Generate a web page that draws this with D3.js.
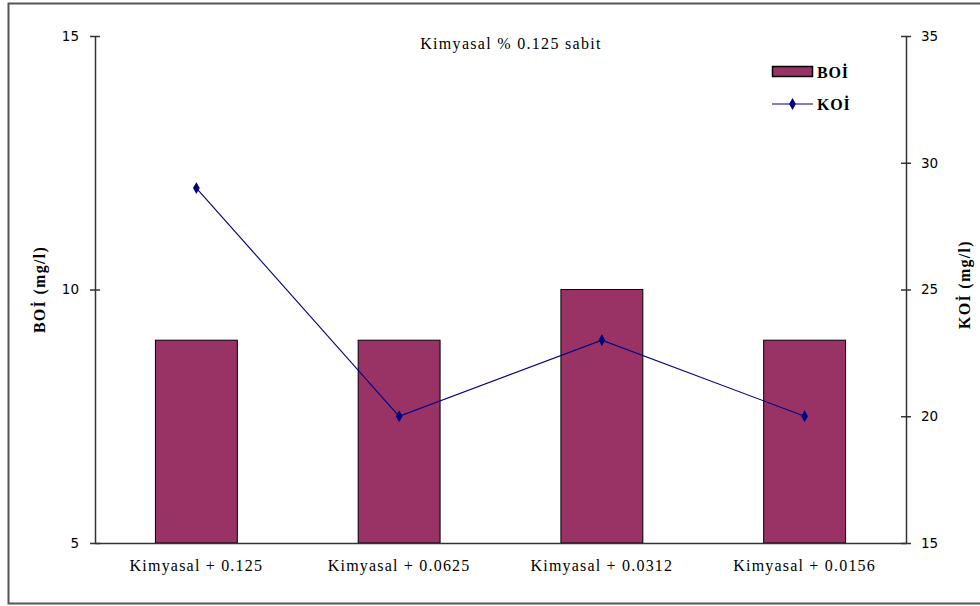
<!DOCTYPE html>
<html>
<head>
<meta charset="utf-8">
<script src="https://cdn.jsdelivr.net/npm/d3@7"></script>
<style>
  html, body { margin: 0; padding: 0; background: #fff; }
  svg { display: block; }
</style>
</head>
<body>
<svg id="chart" width="980" height="606"></svg>
<script>
// Data
const categories = ["Kimyasal + 0.125", "Kimyasal + 0.0625", "Kimyasal + 0.0312", "Kimyasal + 0.0156"];
const boiValues = [9, 9, 10, 9];
const koiValues = [29, 20, 23, 20];
const leftTicks = [5, 10, 15];
const rightTicks = [15, 20, 25, 30, 35];
const chartTitle = "Kimyasal % 0.125 sabit";

const W = 980, H = 606;
const plot = { left: 95, right: 906, top: 36, bottom: 543 };
const serif = "'Liberation Serif', 'Times New Roman', serif";
const sans = "'DejaVu Sans', Verdana, sans-serif";

const svg = d3.select("#chart");

// Outer frame
svg.append("rect")
  .attr("x", 8.5).attr("y", 3.5)
  .attr("width", 990).attr("height", 600)
  .attr("fill", "none").attr("stroke", "#555").attr("stroke-width", 2);

const x = d3.scaleBand().domain(categories).range([plot.left, plot.right]).paddingInner(0.596).paddingOuter(0.298);
const yL = d3.scaleLinear().domain([5, 15]).range([plot.bottom, plot.top]);
const yR = d3.scaleLinear().domain([15, 35]).range([plot.bottom, plot.top]);

// Bars (BOİ)
svg.append("g").selectAll("rect").data(boiValues).join("rect")
  .attr("x", (d, i) => x(categories[i]))
  .attr("y", d => yL(d))
  .attr("width", x.bandwidth())
  .attr("height", d => yL(5) - yL(d))
  .attr("fill", "#993366")
  .attr("stroke", "#000").attr("stroke-width", 1);

// Axes
const axisColor = "#333";
const leftAxis = svg.append("g").attr("transform", `translate(${plot.left},0)`)
  .call(d3.axisLeft(yL).tickValues(leftTicks).tickSize(0).tickPadding(16).tickFormat(d3.format("d")));
leftAxis.select(".domain").attr("stroke", axisColor).attr("stroke-width", 1.5);
leftAxis.selectAll(".tick").append("line").attr("x1", -5).attr("x2", 5).attr("stroke", axisColor).attr("stroke-width", 1.5);

const rightAxis = svg.append("g").attr("transform", `translate(${plot.right},0)`)
  .call(d3.axisRight(yR).tickValues(rightTicks).tickSize(0).tickPadding(15).tickFormat(d3.format("d")));
rightAxis.select(".domain").attr("stroke", axisColor).attr("stroke-width", 1.5);
rightAxis.selectAll(".tick").append("line").attr("x1", -5).attr("x2", 5).attr("stroke", axisColor).attr("stroke-width", 1.5);

const bottomAxis = svg.append("g").attr("transform", `translate(0,${plot.bottom})`)
  .call(d3.axisBottom(x).tickSize(0).tickPadding(17));
bottomAxis.select(".domain").attr("stroke", axisColor).attr("stroke-width", 1.5);

[leftAxis, rightAxis].forEach(g => g.selectAll("text")
  .attr("font-family", sans).attr("font-size", 13.5).attr("fill", "#000"));
bottomAxis.selectAll("text")
  .attr("font-family", serif).attr("font-size", 16).attr("letter-spacing", 1.2).attr("fill", "#000");

// KOİ line
const line = d3.line().x((d, i) => x(categories[i]) + x.bandwidth() / 2).y(d => yR(d));
svg.append("path").datum(koiValues)
  .attr("d", line).attr("fill", "none").attr("stroke", "#000080").attr("stroke-width", 1.1);
const diamond = d3.symbol().type(d3.symbolDiamond).size(40);
svg.append("g").selectAll("path").data(koiValues).join("path")
  .attr("transform", (d, i) => `translate(${x(categories[i]) + x.bandwidth() / 2},${yR(d)})`)
  .attr("d", diamond).attr("fill", "#000080");

// Title
svg.append("text").attr("x", 511).attr("y", 49).attr("text-anchor", "middle")
  .attr("font-family", serif).attr("font-size", 16).attr("letter-spacing", 1.3).text(chartTitle);

// Axis titles
svg.append("text").attr("transform", `translate(45,${(plot.top + plot.bottom) / 2}) rotate(-90)`)
  .attr("text-anchor", "middle").attr("font-family", serif).attr("font-size", 16).attr("font-weight", "bold")
  .attr("letter-spacing", 1.3).text("BOİ (mg/l)");
svg.append("text").attr("transform", `translate(970,${(plot.top + plot.bottom) / 2 - 5}) rotate(-90)`)
  .attr("text-anchor", "middle").attr("font-family", serif).attr("font-size", 16).attr("font-weight", "bold")
  .attr("letter-spacing", 1.3).text("KOİ (mg/l)");

// Legend
const lg = svg.append("g").attr("transform", "translate(772,0)");
lg.append("rect").attr("x", 0.5).attr("y", 66.5).attr("width", 40).attr("height", 10)
  .attr("fill", "#993366").attr("stroke", "#000").attr("stroke-width", 1.5);
lg.append("text").attr("x", 45).attr("y", 78).attr("font-family", serif).attr("font-size", 16)
  .attr("font-weight", "bold").attr("letter-spacing", 0.8).text("BOİ");
lg.append("line").attr("x1", 0).attr("x2", 41).attr("y1", 104).attr("y2", 104)
  .attr("stroke", "#000080").attr("stroke-width", 1.1);
lg.append("path").attr("transform", "translate(20.5,104)").attr("d", diamond).attr("fill", "#000080");
lg.append("text").attr("x", 45).attr("y", 110).attr("font-family", serif).attr("font-size", 16)
  .attr("font-weight", "bold").attr("letter-spacing", 0.8).text("KOİ");
</script>
</body>
</html>
